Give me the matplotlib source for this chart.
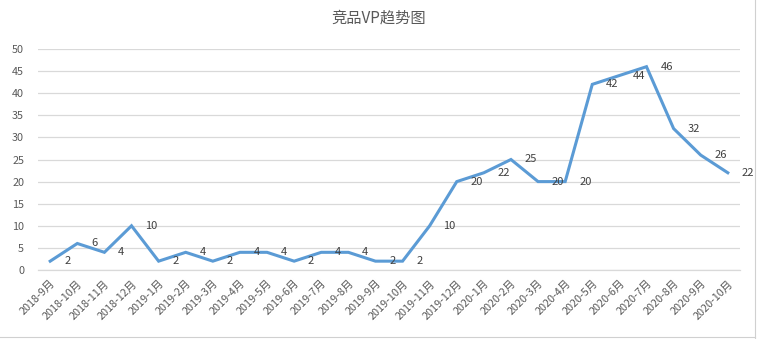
import matplotlib
matplotlib.use("Agg")
import matplotlib.pyplot as plt
from matplotlib.lines import Line2D

plt.rcParams['font.family'] = ['Noto Sans CJK SC', 'DejaVu Sans']

months = ["2018-9月", "2018-10月", "2018-11月", "2018-12月",
          "2019-1月", "2019-2月", "2019-3月", "2019-4月", "2019-5月", "2019-6月",
          "2019-7月", "2019-8月", "2019-9月", "2019-10月", "2019-11月", "2019-12月",
          "2020-1月", "2020-2月", "2020-3月", "2020-4月", "2020-5月", "2020-6月",
          "2020-7月", "2020-8月", "2020-9月", "2020-10月"]
values = [2, 6, 4, 10, 2, 4, 2, 4, 4, 2, 4, 4, 2, 2, 10, 20, 22, 25, 20, 20,
          42, 44, 46, 32, 26, 22]
title = "竞品VP趋势图"
yticks = [0, 5, 10, 15, 20, 25, 30, 35, 40, 45, 50]

W, H = 757, 339
fig = plt.figure(figsize=(W / 100, H / 100), dpi=100)
ax = fig.add_axes([38 / W, 1 - 270 / H, (740 - 38) / W, (270 - 49) / H])

x = list(range(len(values)))
ax.plot(x, values, color='#5B9BD5', linewidth=2.2, solid_joinstyle='miter')
for xi, v in zip(x, values):
    ax.annotate(str(v), (xi, v), xytext=(10, 0), textcoords='offset points',
                ha='left', va='center', fontsize=8, color='#404040')

ax.set_xlim(-0.45, len(values) - 0.55)
ax.set_ylim(0, 50)
ax.set_yticks(yticks)
ax.set_yticklabels([str(t) for t in yticks], fontsize=7.8, color='#595959')
ax.set_xticks(x)
ax.set_xticklabels(months, fontsize=7.8, color='#595959', rotation=45,
                   ha='right', va='top', rotation_mode='anchor')
ax.tick_params(axis='both', length=0)
ax.tick_params(axis='x', pad=6)
ax.tick_params(axis='y', pad=10)
ax.grid(axis='y', color='#D9D9D9', linewidth=0.9)
ax.set_axisbelow(True)
for s in ['top', 'right', 'left']:
    ax.spines[s].set_visible(False)
ax.spines['bottom'].set_color('#D9D9D9')
ax.spines['bottom'].set_linewidth(0.9)

fig.text(0.5, 1 - 18 / H, title, ha='center', va='center', fontsize=11,
         color='#595959')

# worksheet border lines at the edges
fig.add_artist(Line2D([755 / W, 755 / W], [0, 1], color='#D0D0D0', linewidth=0.8,
                      transform=fig.transFigure))
fig.add_artist(Line2D([0, 755 / W], [1 - 337 / H, 1 - 337 / H], color='#D0D0D0',
                      linewidth=0.8, transform=fig.transFigure))

fig.savefig('out.png', dpi=100)
